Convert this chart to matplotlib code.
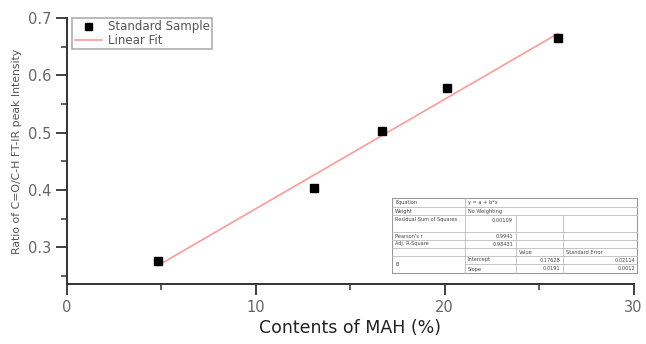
import matplotlib

matplotlib.use("Agg")
import matplotlib.pyplot as plt
from matplotlib.ticker import MultipleLocator
from matplotlib.patches import Rectangle

# data
mah_content = [4.8, 13.1, 16.7, 20.1, 26.0]
peak_ratio = [0.277, 0.403, 0.503, 0.578, 0.665]
intercept = 0.17628
slope = 0.0191

# fit report table (label, value) rows
report_rows = [
    ("Equation", "y = a + b*x"),
    ("Weight", "No Weighting"),
    ("Residual Sum of Squares", "0.00109"),
    ("Pearson's r", "0.9941"),
    ("Adj. R-Square", "0.98431"),
]
param_names = ["Intercept", "Slope"]
param_values = ["0.17628", "0.0191"]
param_errors = ["0.02114", "0.0012"]

fig = plt.figure(figsize=(6.46, 3.44), dpi=100)
ax = fig.add_axes([0.1037, 0.1744, 0.877, 0.7733])

fit_x = [min(mah_content), max(mah_content)]
fit_y = [intercept + slope * x for x in fit_x]
ax.plot(mah_content, peak_ratio, "s", color="black", markersize=6.3,
        linestyle="none", label="Standard Sample", zorder=3)
ax.plot(fit_x, fit_y, color="#ff9a9a", linewidth=1.2, label="Linear Fit", zorder=2)

ax.set_xlim(0, 30)
ax.set_ylim(0.236, 0.7)
ax.xaxis.set_major_locator(MultipleLocator(10))
ax.xaxis.set_minor_locator(MultipleLocator(5))
ax.yaxis.set_major_locator(MultipleLocator(0.1))
ax.yaxis.set_minor_locator(MultipleLocator(0.05))
ax.yaxis.set_major_formatter(matplotlib.ticker.FormatStrFormatter("%.1f"))

for side in ("top", "right"):
    ax.spines[side].set_visible(False)
for side in ("left", "bottom"):
    ax.spines[side].set_linewidth(1.4)
    ax.spines[side].set_color("#333333")
ax.tick_params(which="major", direction="out", length=8, width=1.3,
               color="#333333", labelsize=10.5, labelcolor="#666666")
ax.tick_params(which="minor", direction="out", length=4, width=1.1, color="#333333")

ax.set_xlabel("Contents of MAH (%)", fontsize=12.5, color="#222222", labelpad=3)
ax.set_ylabel("Ratio of C=O/C-H FT-IR peak Intensity", fontsize=7.8,
              color="#555555", labelpad=4)

leg = ax.legend(loc="upper left", bbox_to_anchor=(0.005, 1.01), fontsize=8.5,
                frameon=True, fancybox=False, borderpad=0.2, labelspacing=0.05,
                handlelength=2.3, handletextpad=0.5, borderaxespad=0.2,
                markerscale=0.8)
leg.get_frame().set_edgecolor("#999999")
leg.get_frame().set_linewidth(1.2)
for t in leg.get_texts():
    t.set_color("#555555")

# fit report table drawn in pixel units
tab = fig.add_axes([392 / 646, (344 - 274) / 344, 246 / 646, 76 / 344])
tab.set_xlim(0, 246)
tab.set_ylim(76, 0)
tab.axis("off")
col_edges = [0, 73, 124, 171, 246]
row_edges = [0, 9, 17, 34, 42, 50, 58, 66, 76]
line_kw = dict(color="#bbbbbb", linewidth=0.6)
fs = 3.6
tc = "#444444"

tab.add_patch(Rectangle((0, 0), 246, 76, fill=True, facecolor="white",
                        edgecolor="#999999", linewidth=1.5))
for y in row_edges[1:-1]:
    if y == 66:
        tab.plot([col_edges[1], 246], [y, y], **line_kw)
    else:
        tab.plot([0, 246], [y, y], **line_kw)
tab.plot([73, 73], [0, 76], **line_kw)
tab.plot([124, 124], [17, 76], **line_kw)
tab.plot([171, 171], [17, 76], **line_kw)

for i, (label, value) in enumerate(report_rows):
    y0, y1 = row_edges[i], row_edges[i + 1]
    ym = (y0 + y1) / 2 if i != 2 else y0 + 5
    tab.text(3, ym, label, fontsize=fs, color=tc, va="center", ha="left")
    if i < 2:
        tab.text(76, ym, value, fontsize=fs, color=tc, va="center", ha="left")
    else:
        tab.text(121, ym, value, fontsize=fs, color=tc, va="center", ha="right")

tab.text(127, 54, "Value", fontsize=fs, color=tc, va="center", ha="left")
tab.text(174, 54, "Standard Error", fontsize=fs, color=tc, va="center", ha="left")
tab.text(3, 66, "B", fontsize=fs, color=tc, va="center", ha="left")
for j, name in enumerate(param_names):
    ym = (row_edges[6 + j] + row_edges[7 + j]) / 2
    tab.text(76, ym, name, fontsize=fs, color=tc, va="center", ha="left")
    tab.text(168, ym, param_values[j], fontsize=fs, color=tc, va="center", ha="right")
    tab.text(243, ym, param_errors[j], fontsize=fs, color=tc, va="center", ha="right")

fig.savefig("out.png", dpi=100)
plt.close(fig)
